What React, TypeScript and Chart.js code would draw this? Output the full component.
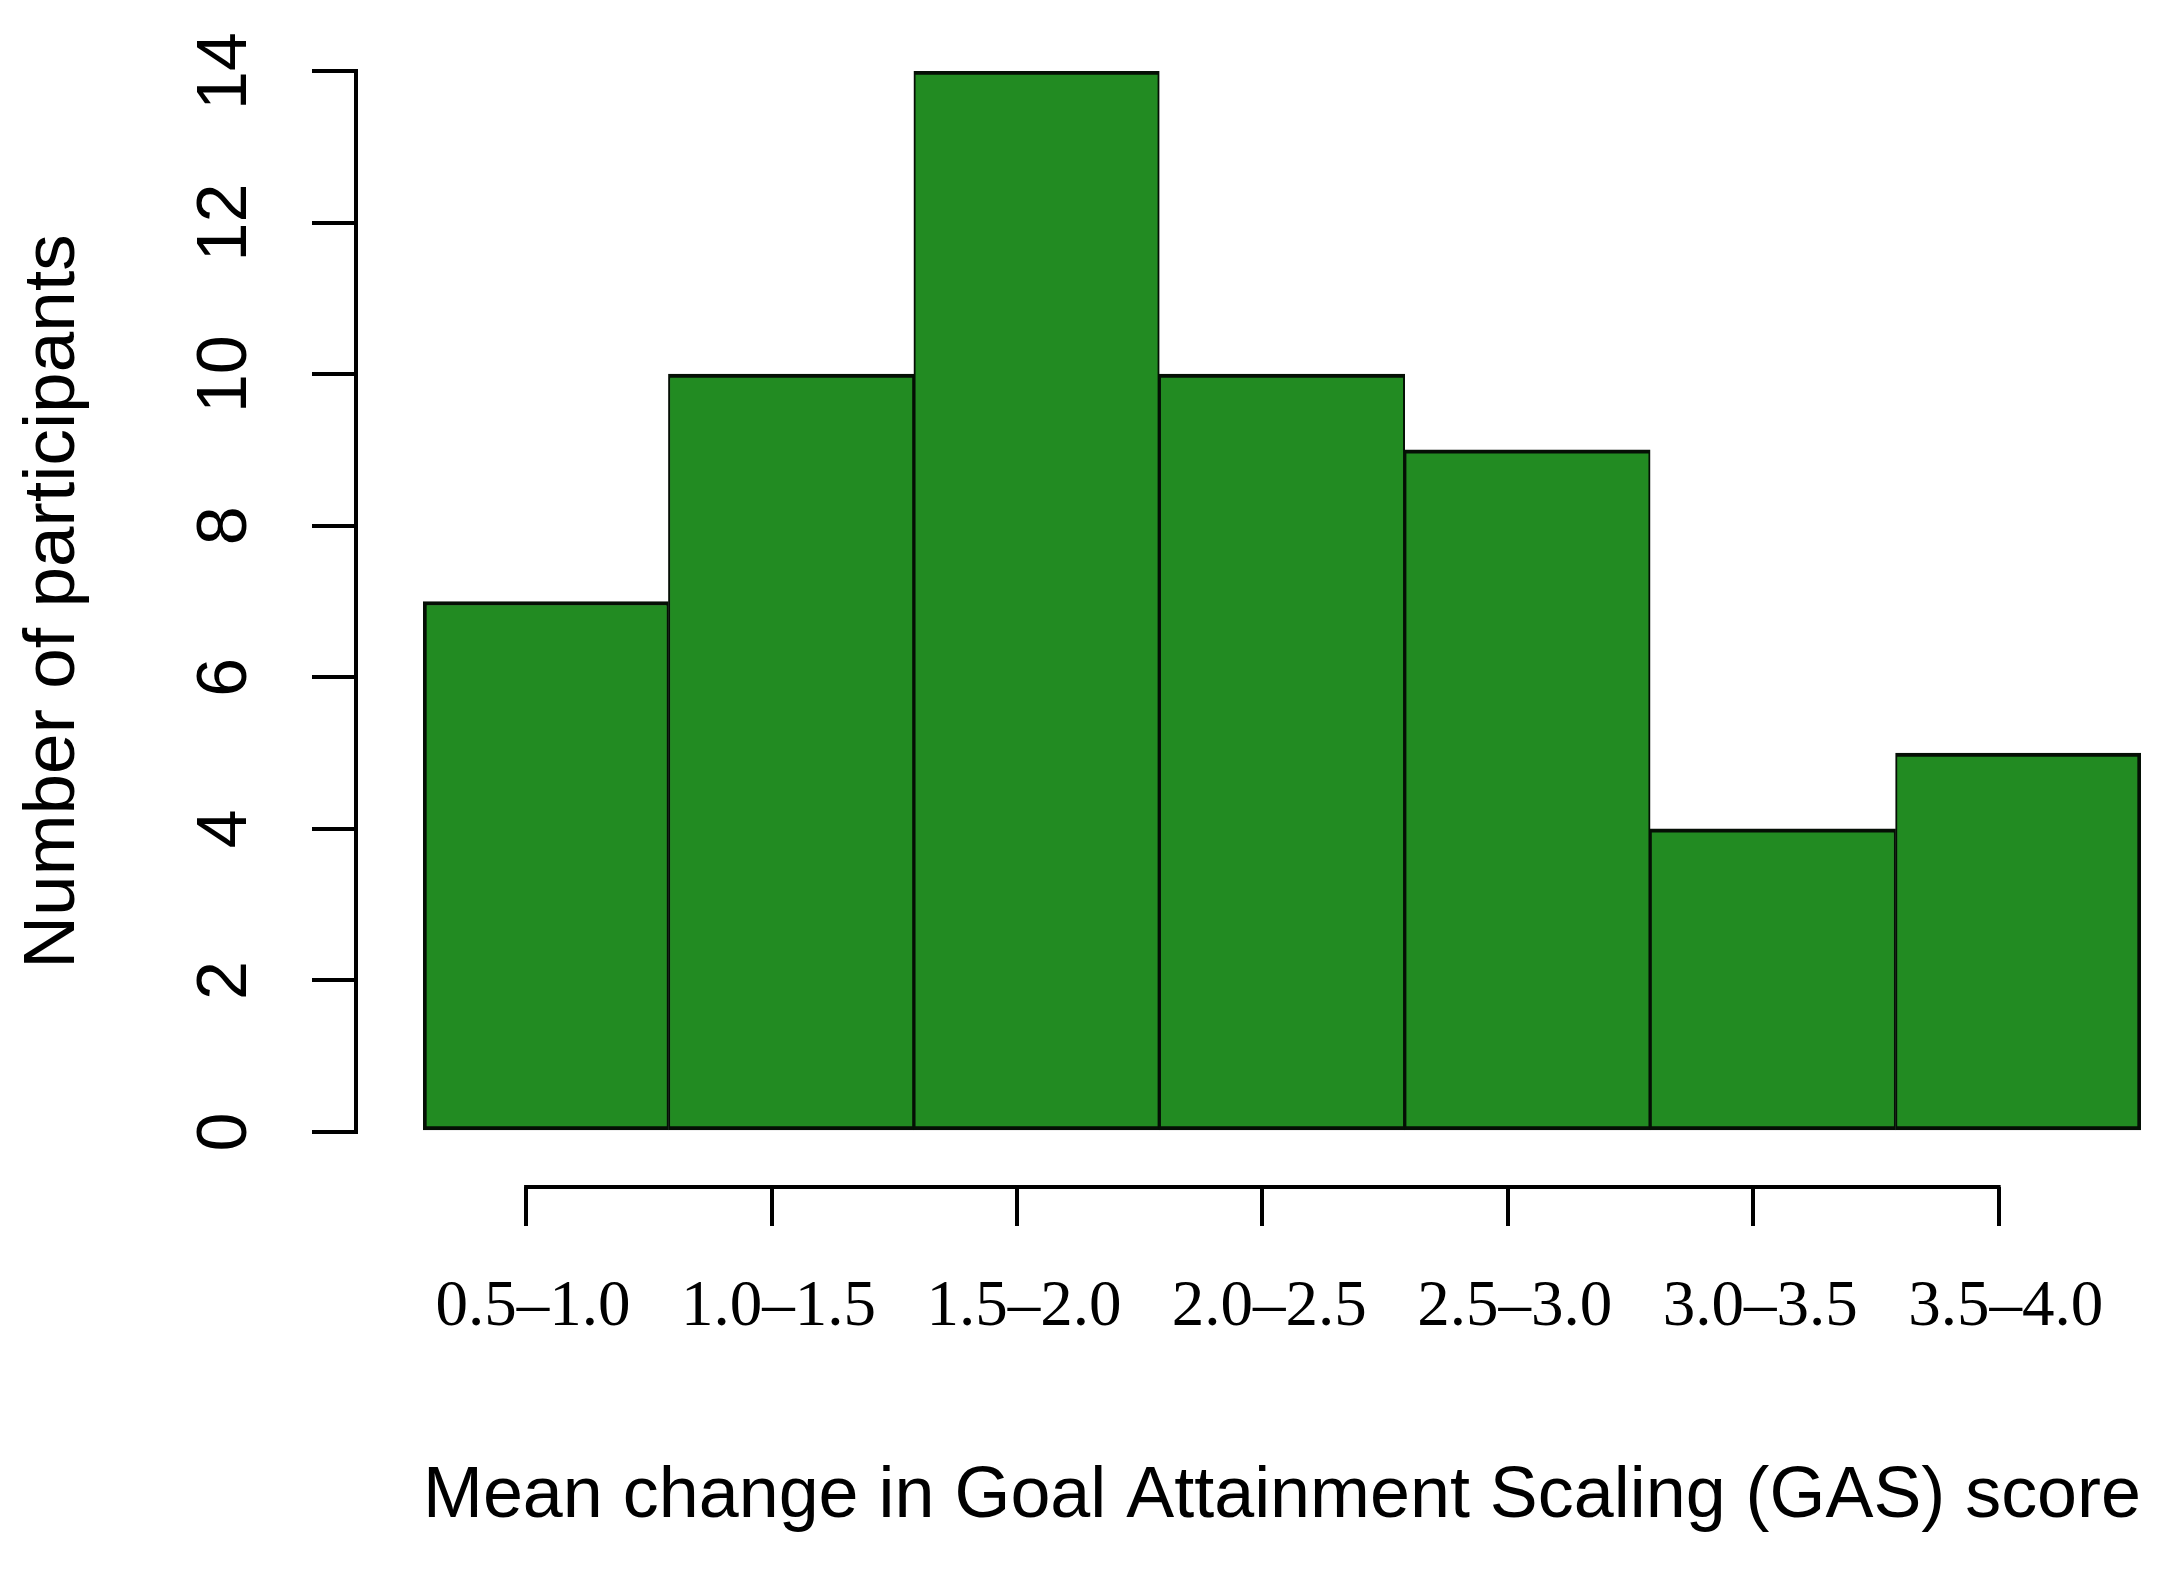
import React, { useEffect, useRef } from "react";
import { Chart, registerables } from "chart.js";

Chart.register(...registerables);

const binLabels = ["0.5–1.0", "1.0–1.5", "1.5–2.0", "2.0–2.5", "2.5–3.0", "3.0–3.5", "3.5–4.0"];
const participantCounts = [7, 10, 14, 10, 9, 4, 5];
const yTickValues = [0, 2, 4, 6, 8, 10, 12, 14];

const xTitle = "Mean change in Goal Attainment Scaling (GAS) score";
const yTitle = "Number of participants";

const W = 2175;
const H = 1571;

const axisLinePlugin = {
  id: "rAxisLine",
  afterDraw(chart: any) {
    const s = chart.scales.x2;
    if (!s) return;
    const ctx = chart.ctx;
    ctx.save();
    ctx.strokeStyle = "#000";
    ctx.lineWidth = 4;
    ctx.lineCap = "square";
    ctx.beginPath();
    ctx.moveTo(s.getPixelForValue(0), s.top);
    ctx.lineTo(s.getPixelForValue(binLabels.length - 1), s.top);
    ctx.stroke();
    ctx.restore();
  },
};

const zeroPad = (s: any) => {
  s.paddingTop = 0;
  s.paddingBottom = 0;
  s.paddingLeft = 0;
  s.paddingRight = 0;
};

export default function App() {
  const ref = useRef<HTMLCanvasElement | null>(null);

  useEffect(() => {
    document.body.style.margin = "0";
    const canvas = ref.current!;
    const last = participantCounts.length - 1;
    const chart = new Chart(canvas, {
      type: "bar",
      data: {
        labels: binLabels,
        datasets: [
          {
            data: participantCounts,
            backgroundColor: "#228B22",
            borderColor: "#050f05",
            borderSkipped: false,
            borderWidth: (c: any) => ({
              top: 4,
              bottom: 4,
              left: c.dataIndex === 0 ? 4 : 2,
              right: c.dataIndex === last ? 4 : 2,
            }),
            barPercentage: 1,
            categoryPercentage: 1,
            xAxisID: "x",
            yAxisID: "y",
          },
        ],
      },
      options: {
        animation: false,
        responsive: false,
        devicePixelRatio: 1,
        layout: { padding: { top: 71, right: 34, bottom: 0, left: 0 } },
        plugins: { legend: { display: false }, tooltip: { enabled: false } },
        scales: {
          x: {
            type: "category",
            position: "bottom",
            weight: 0,
            offset: true,
            grid: { display: false },
            border: { display: false },
            ticks: { display: false },
            afterFit: (s: any) => {
              s.height = 55;
              zeroPad(s);
            },
          },
          x2: {
            type: "linear",
            position: "bottom",
            weight: 1,
            offset: false,
            min: -0.42,
            max: 6.58,
            afterBuildTicks: (s: any) => {
              s.ticks = binLabels.map((_, i) => ({ value: i }));
            },
            grid: {
              display: true,
              offset: false,
              drawOnChartArea: false,
              drawTicks: true,
              tickLength: 39,
              color: "#000",
              lineWidth: 4,
            },
            border: { display: false },
            ticks: {
              autoSkip: false,
              maxRotation: 0,
              minRotation: 0,
              padding: 43,
              labelOffset: 7,
              color: "#000",
              font: { family: "'Liberation Serif', 'Times New Roman', serif", size: 65 },
              callback: (v: any) => binLabels[Math.round(Number(v))] ?? "",
            },
            title: {
              display: true,
              text: xTitle,
              color: "#000",
              font: { family: "'Liberation Sans', Arial, sans-serif", size: 72 },
              padding: { top: 0, bottom: 31 },
            },
            afterFit: (s: any) => {
              s.height = 384;
              zeroPad(s);
            },
          },
          ys: {
            type: "linear",
            position: "left",
            weight: 0,
            grid: { display: false },
            border: { display: false },
            ticks: { display: false },
            afterFit: (s: any) => {
              s.width = 67;
              zeroPad(s);
            },
          },
          y: {
            type: "linear",
            position: "left",
            weight: 1,
            min: 0,
            max: 14,
            afterBuildTicks: (s: any) => {
              s.ticks = yTickValues.map((v) => ({ value: v }));
            },
            grid: {
              display: true,
              drawOnChartArea: false,
              drawTicks: true,
              tickLength: 44,
              color: "#000",
              lineWidth: 4,
            },
            border: { display: true, color: "#000", width: 4 },
            ticks: {
              minRotation: 90,
              maxRotation: 90,
              crossAlign: "center",
              padding: 46,
              color: "#000",
              font: { family: "'Liberation Sans', Arial, sans-serif", size: 70 },
            },
            title: {
              display: true,
              text: yTitle,
              color: "#000",
              font: { family: "'Liberation Sans', Arial, sans-serif", size: 73 },
              padding: { top: 10, bottom: 0 },
            },
            afterFit: (s: any) => {
              s.width = 356;
              zeroPad(s);
            },
          },
        },
      } as any,
      plugins: [axisLinePlugin],
    });
    return () => chart.destroy();
  }, []);

  return (
    <canvas
      ref={ref}
      width={W}
      height={H}
      style={{ display: "block", width: W, height: H, background: "#fff" }}
    />
  );
}
